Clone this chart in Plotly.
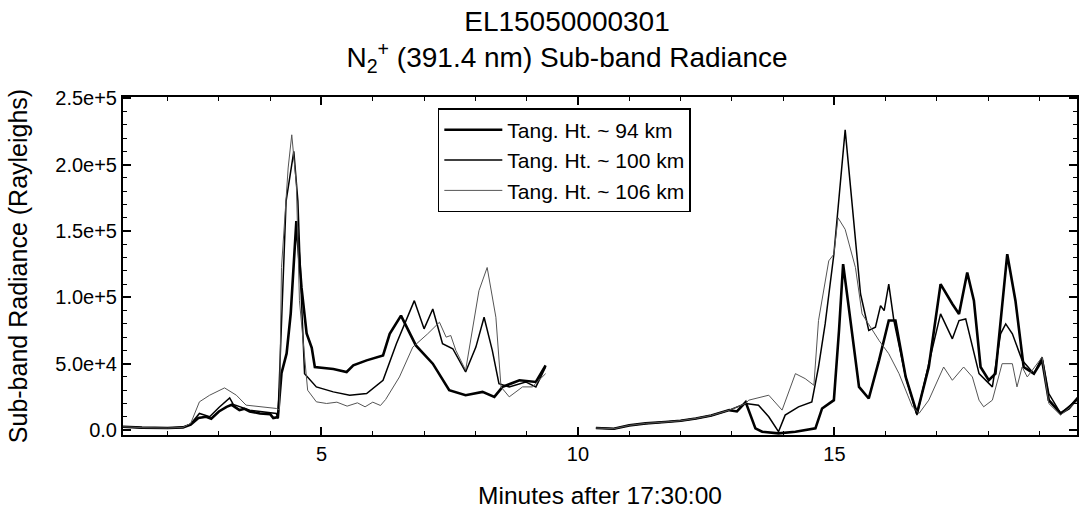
import plotly.graph_objects as go

# ---- data (minutes after 17:30:00, radiance in Rayleighs) ----
x94 = [1.13, 1.5, 2.0, 2.3, 2.45, 2.6, 2.75, 2.85, 3.0, 3.15, 3.25, 3.4, 3.5, 3.6, 3.8, 4.0, 4.06,
       4.15, 4.22, 4.32, 4.40, 4.51, 4.61, 4.71, 4.81, 4.87, 5.23, 5.49, 5.62, 5.88, 6.20, 6.33, 6.55,
       6.84, 7.17, 7.49, 7.81, 8.14, 8.37, 8.53, 8.86, 9.18, 9.37,
       None,
       10.35, 10.7, 11.0, 11.32, 11.7, 12.0, 12.3, 12.6, 12.95, 13.1, 13.27, 13.46, 13.59, 13.91, 14.24,
       14.63, 14.76, 14.99, 15.09, 15.17, 15.28, 15.48, 15.67, 15.87, 16.06, 16.19, 16.39, 16.61, 16.84,
       17.07, 17.30, 17.43, 17.59, 17.72, 17.85, 18.01, 18.14, 18.37, 18.53, 18.69, 18.89, 19.05, 19.18,
       19.41, 19.57, 19.76]
y94 = [2500, 1800, 1500, 2000, 4000, 9000, 10000, 8500, 14000, 17500, 19000, 15000, 16000, 14000, 12500, 12000, 9000,
       9750, 42750, 57750, 87750, 157500, 107500, 72750, 62000, 47500, 46000, 43750, 48750, 52500, 56250, 72500, 86250,
       63750, 50000, 30000, 26250, 28750, 25000, 32500, 37500, 36250, 48750,
       None,
       1500, 1000, 3500, 5000, 6000, 7000, 8750, 11000, 15000, 14000, 21000, 1250, -1250, -2500, -1250,
       1250, 16250, 22500, 75000, 125000, 92500, 32500, 23750, 52500, 82500, 82500, 40000, 12500, 47500,
       110000, 95000, 87500, 118750, 97500, 47500, 37500, 42500, 132500, 97500, 47500, 42500, 52500, 22500,
       12500, 16250, 25000]

x100 = [1.13, 1.5, 2.0, 2.3, 2.45, 2.62, 2.82, 3.0, 3.21, 3.28, 3.60, 4.12, 4.15,
        4.22, 4.31, 4.46, 4.54, 4.61, 4.67, 4.90, 5.23, 5.55, 5.88, 6.20, 6.46, 6.81, 7.00, 7.17, 7.36,
        7.56, 7.81, 8.01, 8.17, 8.33, 8.46, 8.66, 8.98, 9.18, 9.37,
        None,
        10.35, 10.7, 11.0, 11.32, 11.7, 12.0, 12.3, 12.6, 12.95, 13.27, 13.52, 13.72, 13.91, 14.04, 14.30,
        14.56, 14.69, 14.82, 14.99, 15.11, 15.21, 15.34, 15.51, 15.67, 15.80, 15.90, 15.97, 16.06, 16.16,
        16.39, 16.61, 16.84, 17.07, 17.30, 17.43, 17.56, 17.82, 18.08, 18.24, 18.34, 18.47, 18.66, 18.89,
        19.05, 19.18, 19.41, 19.76]
y100 = [2500, 1800, 1500, 2000, 4500, 12500, 10000, 17000, 24250, 19250, 15000, 12500, 8750,
        85000, 172500, 210000, 172500, 97500, 42500, 32500, 28750, 26250, 27500, 37500, 65000, 97500, 76250, 91250, 65000,
        61250, 43750, 62500, 85000, 60000, 35000, 32500, 36250, 32500, 47500,
        None,
        1500, 1000, 3500, 5000, 6000, 7000, 8750, 11000, 15000, 20000, 18750, 10000, -1250, 11250, 17500,
        21250, 47500, 80000, 132500, 185000, 226250, 172500, 102500, 75000, 77500, 93750, 90000, 110000, 82500,
        40000, 11250, 50000, 87500, 68750, 82500, 83750, 42500, 32500, 72500, 80000, 72500, 52500, 42500,
        55000, 27500, 12500, 23750]

x106 = [1.13, 1.5, 2.0, 2.3, 2.45, 2.62, 2.82, 3.11, 3.34, 3.53, 4.12, 4.18,
        4.22, 4.35, 4.42, 4.51, 4.57, 4.73, 4.90, 5.1, 5.3, 5.5, 5.7, 5.85, 6.0, 6.15, 6.25, 6.52, 6.78,
        7.07, 7.30, 7.43, 7.52, 7.62, 7.81, 8.07, 8.23, 8.40, 8.50, 8.66, 8.92, 9.11, 9.37,
        None,
        10.35, 10.7, 11.0, 11.32, 11.7, 12.0, 12.3, 12.6, 12.95, 13.27, 13.33, 13.72, 13.98, 14.24, 14.43,
        14.60, 14.69, 14.89, 14.99, 15.07, 15.21, 15.41, 15.54, 15.70, 15.87, 16.06, 16.26, 16.52, 16.65,
        16.84, 17.13, 17.30, 17.52, 17.69, 17.82, 17.91, 18.08, 18.27, 18.47, 18.56, 18.66, 18.76, 19.05,
        19.18, 19.41, 19.76]
y106 = [2500, 1800, 1500, 2000, 5000, 21250, 26250, 31750, 26250, 18750, 16250, 15000,
        122500, 197500, 222500, 185000, 97500, 30000, 21250, 20000, 21000, 18000, 20500, 17500, 21000, 18500, 23000, 40000, 62500,
        72500, 81250, 70000, 71250, 60000, 45000, 105000, 122500, 85000, 32500, 25000, 32500, 32500, 42500,
        None,
        1500, 1000, 3500, 5000, 6000, 7000, 8750, 11000, 15000, 20000, 22500, 26250, 15000, 42500, 38750,
        33750, 82500, 127500, 132500, 160000, 151250, 122500, 87500, 77500, 67500, 57500, 42500, 17500, 12500,
        22500, 47500, 37500, 47500, 40000, 22500, 17500, 22500, 50000, 50000, 32500, 47500, 40000, 55000,
        20000, 11250, 22500]

series_names = ["Tang. Ht. ~ 94 km", "Tang. Ht. ~ 100 km", "Tang. Ht. ~ 106 km"]
y_tickvals = [0, 50000, 100000, 150000, 200000, 250000]
y_ticktext = ["0.0", "5.0e+4", "1.0e+5", "1.5e+5", "2.0e+5", "2.5e+5"]
x_tickvals = [5, 10, 15, 20]
x_ticktext = ["5", "10", "15", "20"]

FONT = "Arial, Liberation Sans, sans-serif"

fig = go.Figure()
fig.add_trace(go.Scatter(x=x94, y=y94, mode="lines", name=series_names[0],
                         line=dict(color="black", width=2.6), connectgaps=False))
fig.add_trace(go.Scatter(x=x100, y=y100, mode="lines", name=series_names[1],
                         line=dict(color="black", width=1.5), connectgaps=False))
fig.add_trace(go.Scatter(x=x106, y=y106, mode="lines", name=series_names[2],
                         line=dict(color="#555555", width=1), connectgaps=False))

axis_common = dict(showline=True, linecolor="black", linewidth=2, mirror="ticks",
                   ticks="inside", tickcolor="black", tickwidth=1.5, ticklen=8,
                   showgrid=False, zeroline=False,
                   tickfont=dict(family=FONT, size=20, color="black"))

fig.update_xaxes(range=[1.13, 19.73], tickmode="array", tickvals=x_tickvals, ticktext=x_ticktext,
                 minor=dict(dtick=1, tick0=0, ticks="inside", ticklen=4, tickcolor="black", tickwidth=1),
                 title=dict(text="Minutes after 17:30:00", font=dict(family=FONT, size=24.5, color="black"),
                            standoff=23),
                 **axis_common)
fig.update_yaxes(range=[-3750, 251000], tickmode="array", tickvals=y_tickvals, ticktext=y_ticktext,
                 minor=dict(dtick=10000, tick0=0, ticks="inside", ticklen=4, tickcolor="black", tickwidth=1),
                 title=dict(text="Sub-band Radiance (Rayleighs)", font=dict(family=FONT, size=25, color="black"),
                            standoff=21),
                 **axis_common)

fig.update_layout(
    width=1080, height=520,
    margin=dict(l=123, r=1, t=97, b=85),
    paper_bgcolor="white", plot_bgcolor="white",
    title=dict(text="EL15050000301<br>N<sub>2</sub><sup>+</sup> (391.4 nm) Sub-band Radiance",
               x=567 / 1080, xref="container", xanchor="center", y=1 - 31 / 520, yref="container", yanchor="top",
               font=dict(family=FONT, size=28, color="black")),
    legend=dict(x=0.33, y=0.967, xanchor="left", yanchor="top",
                bordercolor="black", borderwidth=1.5, bgcolor="white",
                font=dict(family=FONT, size=21, color="black"),
                itemwidth=58, tracegroupgap=0),
    showlegend=True,
)

fig.write_html("out.html")
